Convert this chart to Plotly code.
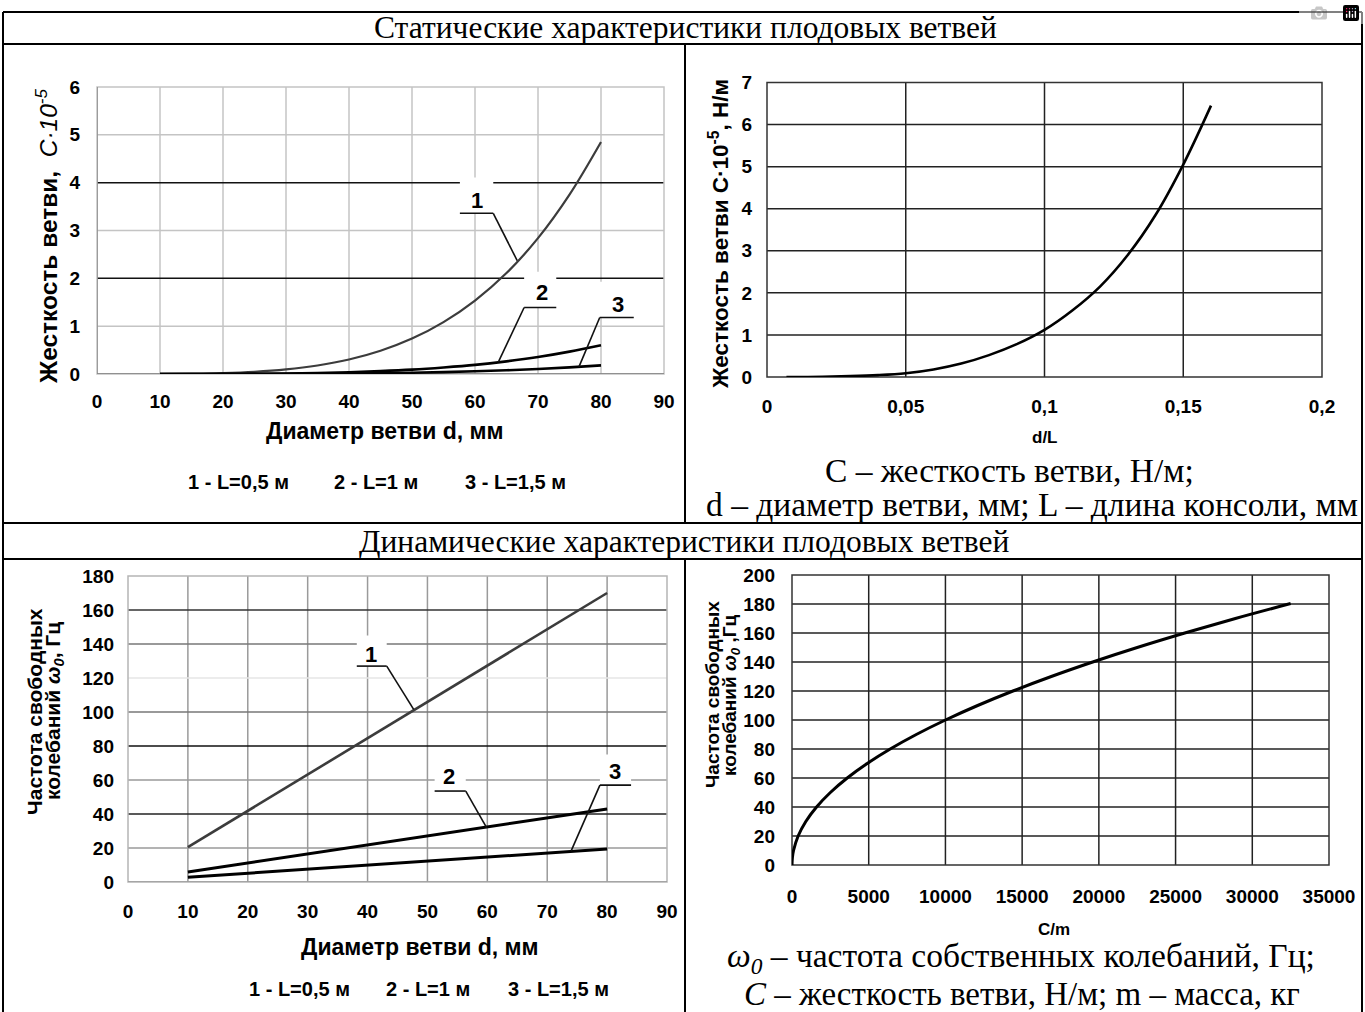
import plotly.graph_objects as go

W, H = 1365, 1012

# ---------------- data ----------------
# top-left: stiffness vs diameter (C*10^-5)
d_static = [10, 15, 20, 25, 30, 35, 40, 45, 50, 55, 60, 65, 70, 75, 80]
c_L05 = [0.001, 0.006, 0.019, 0.046, 0.096, 0.178, 0.303, 0.486, 0.74, 1.085, 1.535, 2.11, 2.84, 3.75, 4.85]
c_L10 = [0.0, 0.001, 0.002, 0.006, 0.012, 0.022, 0.038, 0.061, 0.092, 0.136, 0.19, 0.264, 0.355, 0.468, 0.60]
c_L15 = [0.0, 0.0, 0.001, 0.002, 0.004, 0.007, 0.011, 0.018, 0.027, 0.04, 0.057, 0.078, 0.105, 0.139, 0.18]

# top-right: stiffness vs d/L
dL = [0.007, 0.02, 0.03, 0.04, 0.05, 0.06, 0.07, 0.08, 0.09, 0.10, 0.11, 0.12, 0.13, 0.14, 0.15, 0.16]
c_dL = [0.0, 0.005, 0.02, 0.045, 0.09, 0.18, 0.32, 0.52, 0.78, 1.12, 1.58, 2.15, 2.9, 3.85, 5.05, 6.45]

# bottom-left: natural frequency vs diameter
d_dyn = [10, 80]
w_L05 = [20.5, 170]
w_L10 = [5.9, 43]
w_L15 = [2.8, 19.4]

# bottom-right: frequency vs C/m
cm = [0, 25, 100, 400, 900, 1600, 2500, 3600, 4900, 6400, 8100, 10000, 12100, 14400,
      16900, 19600, 22500, 25600, 28900, 32500]
w_cm = [0, 5, 10, 20, 30, 40, 50, 60, 70, 80, 90, 100, 110, 120, 130, 140, 150, 160, 170, 180.3]

# tick labels
tl_xt = [0, 10, 20, 30, 40, 50, 60, 70, 80, 90]
tl_yt = [0, 1, 2, 3, 4, 5, 6]
tr_xt = [0, 0.05, 0.1, 0.15, 0.2]
tr_xl = ["0", "0,05", "0,1", "0,15", "0,2"]
tr_yt = [0, 1, 2, 3, 4, 5, 6, 7]
bl_yt = [0, 20, 40, 60, 80, 100, 120, 140, 160, 180]
br_xt = [0, 5000, 10000, 15000, 20000, 25000, 30000, 35000]
br_yt = [0, 20, 40, 60, 80, 100, 120, 140, 160, 180, 200]

legend_items = ["1 - L=0,5 м", "2 - L=1 м", "3 - L=1,5 м"]

# callouts: label, text x, text y, underline x0, x1, y, leader start x, tip x, tip y
tl_callouts = [("1", 60.3, 3.62, 57.6, 62.9, 3.36, 62.9, 66.7, 2.37),
               ("2", 70.6, 1.70, 67.8, 72.9, 1.39, 67.8, 63.7, 0.25),
               ("3", 82.7, 1.45, 79.8, 85.2, 1.18, 79.8, 76.5, 0.15)]
bl_callouts = [("1", 40.6, 134, 38.2, 43.2, 127, 43.2, 47.7, 101.5),
               ("2", 53.6, 62, 51.2, 56.4, 53.5, 56.4, 59.9, 31.8),
               ("3", 81.3, 65, 78.8, 84.0, 57, 78.8, 74.0, 18.3)]

# ---------------- helpers ----------------
NARROW = "Liberation Sans Narrow, Arial Narrow, Liberation Sans, Arial, sans-serif"
SANS = "Liberation Sans, Arial, sans-serif"
SERIF = "Liberation Serif, Times New Roman, serif"


def dx(a, b):
    return [a / W, b / W]


def dy(top, bottom):
    return [1 - bottom / H, 1 - top / H]


def px(x):
    return x / W


def py(y):
    return 1 - y / H


fig = go.Figure()

fig.add_trace(go.Scatter(x=d_static, y=c_L05, mode="lines", line=dict(color="#3c3c3c", width=2.2, shape="spline"), xaxis="x", yaxis="y"))
fig.add_trace(go.Scatter(x=d_static, y=c_L10, mode="lines", line=dict(color="#000", width=2.6, shape="spline"), xaxis="x", yaxis="y"))
fig.add_trace(go.Scatter(x=d_static, y=c_L15, mode="lines", line=dict(color="#000", width=2.6, shape="spline"), xaxis="x", yaxis="y"))

fig.add_trace(go.Scatter(x=dL, y=c_dL, mode="lines", line=dict(color="#000", width=2.6, shape="spline"), xaxis="x2", yaxis="y2"))

fig.add_trace(go.Scatter(x=d_dyn, y=w_L05, mode="lines", line=dict(color="#3c3c3c", width=2.6), xaxis="x3", yaxis="y3"))
fig.add_trace(go.Scatter(x=d_dyn, y=w_L10, mode="lines", line=dict(color="#000", width=3), xaxis="x3", yaxis="y3"))
fig.add_trace(go.Scatter(x=d_dyn, y=w_L15, mode="lines", line=dict(color="#000", width=3), xaxis="x3", yaxis="y3"))

fig.add_trace(go.Scatter(x=cm, y=w_cm, mode="lines", line=dict(color="#000", width=3, shape="spline"), xaxis="x4", yaxis="y4"))

tickfont = dict(family=NARROW, size=19, color="black", weight="bold")


def ax(domain, rng, tv, tt, anchor, standoff):
    return dict(domain=domain, range=rng, tickvals=tv, ticktext=tt, anchor=anchor,
                showgrid=False, zeroline=False, showline=False, ticks="", automargin=False,
                tickfont=tickfont, fixedrange=True, ticklabelstandoff=standoff)


layout = dict(
    width=W, height=H, margin=dict(l=0, r=0, t=0, b=0, pad=0, autoexpand=False),
    paper_bgcolor="white", plot_bgcolor="white", showlegend=False,
    xaxis=ax(dx(97, 664), [0, 90], tl_xt, [str(v) for v in tl_xt], "y", 14),
    yaxis=ax(dy(87, 374), [0, 6], tl_yt, [str(v) for v in tl_yt], "x", 16),
    xaxis2=ax(dx(767, 1322), [0, 0.2], tr_xt, tr_xl, "y2", 16),
    yaxis2=ax(dy(82.5, 377), [0, 7], tr_yt, [str(v) for v in tr_yt], "x2", 14),
    xaxis3=ax(dx(128, 667), [0, 90], tl_xt, [str(v) for v in tl_xt], "y3", 16),
    yaxis3=ax(dy(576, 882), [0, 180], bl_yt, [str(v) for v in bl_yt], "x3", 13),
    xaxis4=ax(dx(792, 1329), [0, 35000], br_xt, [str(v) for v in br_xt], "y4", 18),
    yaxis4=ax(dy(575, 865), [0, 200], br_yt, [str(v) for v in br_yt], "x4", 16),
)
fig.update_layout(**layout)

shapes = []


def hline(xa, ya, yv, color, width):
    shapes.append(dict(type="line", xref=xa + " domain", yref=ya, x0=0, x1=1, y0=yv, y1=yv,
                       line=dict(color=color, width=width), layer="below"))


def vline(xa, ya, xv, color, width):
    shapes.append(dict(type="line", xref=xa, yref=ya + " domain", x0=xv, x1=xv, y0=0, y1=1,
                       line=dict(color=color, width=width), layer="below"))


LIGHT = "#c4c4c4"
MID = "#9a9a9a"

# top-left grid
for v in [10, 20, 30, 40, 50, 60, 70, 80]:
    vline("x", "y", v, LIGHT, 1.5)
for v, c in [(1, LIGHT), (3, LIGHT), (5, LIGHT), (2, "#111"), (4, "#111")]:
    hline("x", "y", v, c, 1.5)
shapes.append(dict(type="rect", xref="x domain", yref="y domain", x0=0, x1=1, y0=0, y1=1,
                   line=dict(color=LIGHT, width=1.5), layer="below"))
hline("x", "y", 0, "#7a7a7a", 1.5)
vline("x", "y", 0, "#8a8a8a", 1.5)

# top-right grid
for v in [0.05, 0.1, 0.15]:
    vline("x2", "y2", v, "#222", 1.5)
for v in [1, 2, 3, 4, 5, 6]:
    hline("x2", "y2", v, "#222", 1.5)
shapes.append(dict(type="rect", xref="x2 domain", yref="y2 domain", x0=0, x1=1, y0=0, y1=1,
                   line=dict(color="#333", width=1.5), layer="below"))

# bottom-left grid
for v in [10, 20, 30, 40, 50, 60, 70, 80]:
    vline("x3", "y3", v, MID, 1.5)
for v, c in [(20, MID), (40, "#222"), (60, MID), (80, "#111"), (100, "#777"), (120, "#e6e6e6"),
             (140, "#777"), (160, "#333")]:
    hline("x3", "y3", v, c, 1.5)
shapes.append(dict(type="rect", xref="x3 domain", yref="y3 domain", x0=0, x1=1, y0=0, y1=1,
                   line=dict(color="#b5b5b5", width=1.5), layer="below"))
hline("x3", "y3", 0, "#9a9a9a", 1.5)

# bottom-right grid
for v in [5000, 10000, 15000, 20000, 25000, 30000]:
    vline("x4", "y4", v, "#222", 1.5)
for v in [20, 40, 60, 80, 100, 120, 140, 160, 180]:
    hline("x4", "y4", v, "#222", 1.5)
shapes.append(dict(type="rect", xref="x4 domain", yref="y4 domain", x0=0, x1=1, y0=0, y1=1,
                   line=dict(color="#333", width=1.5), layer="below"))

annotations = []


def callouts(items, xa, ya, ybox):
    for lab, tx, ty, u0, u1, uy, sx, tipx, tipy in items:
        # white box hiding grid behind the label
        shapes.append(dict(type="rect", xref=xa, yref=ya, x0=u0, x1=u1, y0=uy, y1=uy + ybox,
                           fillcolor="white", line=dict(width=0), layer="below"))
        shapes.append(dict(type="line", xref=xa, yref=ya, x0=u0, x1=u1, y0=uy, y1=uy,
                           line=dict(color="#111", width=1.6), layer="above"))
        shapes.append(dict(type="line", xref=xa, yref=ya, x0=sx, x1=tipx, y0=uy, y1=tipy,
                           line=dict(color="#111", width=1.6), layer="above"))
        annotations.append(dict(text="<b>" + lab + "</b>", x=tx, y=ty, xref=xa, yref=ya, showarrow=False,
                                font=dict(family=NARROW, size=22, color="black")))


callouts(tl_callouts, "x", "y", 0.75)
callouts(bl_callouts, "x3", "y3", 18)

# ---------------- table frame ----------------
TB = dict(color="black", width=2)
for (x0, y0, x1, y1) in [(3, 12, 1362, 12), (3, 44, 1362, 44), (3, 523, 1362, 523), (3, 559, 1362, 559),
                         (3, 12, 3, 1012), (1362, 12, 1362, 1012), (685, 44, 685, 523), (685, 559, 685, 1012)]:
    shapes.append(dict(type="line", xref="paper", yref="paper", x0=px(x0), x1=px(x1), y0=py(y0), y1=py(y1),
                       line=TB, layer="above"))


def note(text, x, y, font, size, angle=0, xanchor="center", weight="normal", align="center"):
    annotations.append(dict(text=text, x=px(x), y=py(y), xref="paper", yref="paper", showarrow=False,
                            textangle=angle, xanchor=xanchor, yanchor="middle", align=align,
                            font=dict(family=font, size=size, color="black", weight=weight)))


# headers
note("Статические характеристики плодовых ветвей", 685, 28, SERIF, 31.5)
note("Динамические характеристики плодовых ветвей", 684, 541, SERIF, 31.5)

# top-left titles
note("<b>Жесткость ветви,</b>  <i>С·10<sup>-5</sup></i>", 46, 236, SANS, 24.5, angle=-90)
note("<b>Диаметр ветви d, мм</b>", 385, 431, NARROW, 23)
for t, xc in zip(legend_items, [238, 376, 515]):
    note("<b>" + t + "</b>", xc, 482, NARROW, 20)

# top-right titles
note("<b>Жесткость ветви С·10<sup>-5</sup>, Н/м</b>", 719, 234, SANS, 22.5, angle=-90)
note("<b>d/L</b>", 1045, 437, NARROW, 17)
note("С – жесткость ветви, Н/м;", 1009, 470, SERIF, 33.5)
note("d – диаметр ветви, мм; L – длина консоли, мм", 1032, 504, SERIF, 33.5)

# bottom-left titles
note("<b>Частота свободных</b>", 34, 712, SANS, 21, angle=-90)
note("<b>колебаний <i>ω<sub>0</sub></i>, Гц</b>", 54, 711, SANS, 21, angle=-90)
note("<b>Диаметр ветви d, мм</b>", 420, 947, NARROW, 23)
for t, xc in zip(legend_items, [299, 428, 558]):
    note("<b>" + t + "</b>", xc, 989, NARROW, 20)

# bottom-right titles
note("<b>Частота свободных</b>", 712, 695, SANS, 19, angle=-90)
note("<b>колебаний <i>ω<sub>0</sub></i> ,Гц</b>", 731, 695, SANS, 19, angle=-90)
note("<b>C/m</b>", 1054, 929, NARROW, 17)
note("<i>ω<sub>0</sub></i> – частота собственных колебаний, Гц;", 1021, 958, SERIF, 33.5)
note("<i>С</i> – жесткость ветви, Н/м; m – масса, кг", 1022, 994, SERIF, 33)

fig.update_layout(shapes=shapes, annotations=annotations)

fig.write_html("out.html", post_script="document.body.style.margin='0px';document.body.style.overflow='hidden';")
